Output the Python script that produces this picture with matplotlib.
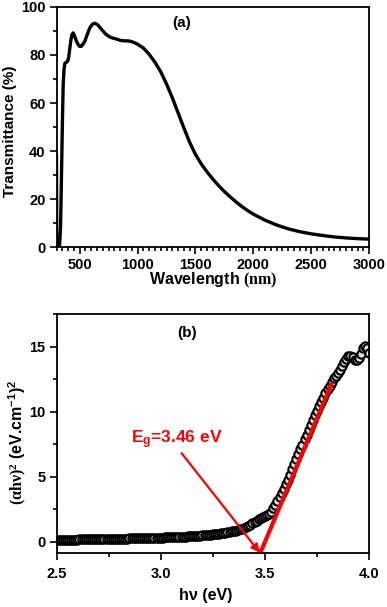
import matplotlib

matplotlib.use("Agg")
import matplotlib.pyplot as plt
from matplotlib.ticker import MultipleLocator

# (a) transmittance spectrum
wavelength_nm = [
    300, 302, 325, 335, 345, 352, 358, 365, 372, 385, 395, 405, 415, 425, 435, 444,
    455, 470, 485, 500, 515, 530, 545, 560, 575, 590, 610, 630, 650, 670, 690, 710,
    730, 760, 790, 820, 850, 880, 910, 940, 970, 1000, 1050, 1100, 1150, 1200, 1250,
    1300, 1350, 1400, 1450, 1500, 1550, 1600, 1650, 1700, 1750, 1800, 1850, 1900,
    1950, 2000, 2100, 2200, 2300, 2400, 2500, 2600, 2700, 2800, 2900, 3000,
]
transmittance = [
    38, 0, 0, 8, 35, 55, 68, 74, 76.5, 77, 77.3, 79, 82.8, 86.5, 88.6, 89.2,
    88, 86, 84.5, 83.6, 83.6, 84.6, 85.8, 87.8, 89.8, 91.5, 92.8, 93.2, 92.8, 91.8, 90.6, 89.5,
    88.5, 87.5, 87, 86.6, 86.1, 85.9, 85.9, 85.7, 85.2, 84.5, 82.9, 80.3, 77, 73, 67.9,
    62.2, 55.9, 49.6, 43.6, 38.6, 34.6, 31.3, 28.3, 25.6, 23.1, 20.9, 18.8, 16.9,
    15.2, 13.7, 11.2, 9.2, 7.6, 6.4, 5.5, 4.8, 4.2, 3.8, 3.5, 3.3,
]

# (b) Tauc plot
photon_energy = [
    2.50, 2.51, 2.52, 2.53, 2.54, 2.55, 2.56, 2.57, 2.58, 2.59,
    2.60, 2.61, 2.62, 2.63, 2.64, 2.65, 2.66, 2.67, 2.68, 2.69,
    2.70, 2.71, 2.72, 2.73, 2.74, 2.75, 2.76, 2.77, 2.78, 2.79,
    2.80, 2.81, 2.82, 2.83, 2.84, 2.85, 2.86, 2.87, 2.88, 2.89,
    2.90, 2.91, 2.92, 2.93, 2.94, 2.95, 2.96, 2.97, 2.98, 2.99,
    3.00, 3.01, 3.02, 3.03, 3.04, 3.05, 3.06, 3.07, 3.08, 3.09,
    3.10, 3.11, 3.12, 3.13, 3.14, 3.15, 3.16, 3.17, 3.18, 3.19,
    3.20, 3.21, 3.22, 3.23, 3.24, 3.25, 3.26, 3.27, 3.28, 3.29,
    3.30, 3.31, 3.32, 3.33, 3.34, 3.35, 3.36, 3.37, 3.38, 3.39,
    3.40, 3.41, 3.42, 3.43, 3.44, 3.45, 3.46, 3.47, 3.48, 3.49,
    3.50, 3.51, 3.52, 3.53, 3.54, 3.55, 3.56, 3.57, 3.58, 3.59,
    3.60, 3.61, 3.62, 3.63, 3.64, 3.65, 3.66, 3.67, 3.68, 3.69,
    3.70, 3.71, 3.72, 3.73, 3.74, 3.75, 3.76, 3.77, 3.78, 3.79,
    3.80, 3.81, 3.82, 3.83, 3.84, 3.85, 3.86, 3.87, 3.88, 3.89,
    3.90, 3.91, 3.92, 3.93, 3.94, 3.95, 3.96, 3.97, 3.98, 3.99,
    4.00,
]
tauc_value = [
    0.12, 0.12, 0.13, 0.13, 0.13, 0.14, 0.14, 0.14, 0.15, 0.15,
    0.15, 0.16, 0.16, 0.16, 0.17, 0.17, 0.17, 0.18, 0.18, 0.18,
    0.19, 0.19, 0.19, 0.20, 0.20, 0.20, 0.21, 0.21, 0.21, 0.22,
    0.22, 0.22, 0.23, 0.23, 0.23, 0.24, 0.24, 0.25, 0.25, 0.25,
    0.26, 0.26, 0.27, 0.27, 0.28, 0.28, 0.29, 0.29, 0.30, 0.30,
    0.31, 0.31, 0.32, 0.33, 0.33, 0.34, 0.35, 0.35, 0.36, 0.37,
    0.38, 0.39, 0.39, 0.40, 0.41, 0.42, 0.43, 0.44, 0.45, 0.46,
    0.48, 0.49, 0.50, 0.52, 0.53, 0.55, 0.57, 0.59, 0.61, 0.63,
    0.66, 0.69, 0.72, 0.75, 0.78, 0.81, 0.85, 0.89, 0.94, 0.99,
    1.05, 1.12, 1.20, 1.30, 1.40, 1.52, 1.62, 1.72, 1.82, 1.90,
    1.97, 2.05, 2.15, 2.30, 2.55, 2.85, 3.15, 3.45, 3.75, 4.05,
    4.40, 4.75, 5.15, 5.55, 5.95, 6.35, 6.70, 7.10, 7.45, 7.85,
    8.20, 8.60, 8.95, 9.35, 9.70, 10.05, 10.40, 10.75, 11.05, 11.40,
    11.70, 12.00, 12.30, 12.55, 12.75, 12.95, 13.20, 13.50, 13.80, 14.05,
    14.25, 14.30, 14.20, 14.00, 13.95, 14.10, 14.45, 14.85, 15.05, 14.90,
    14.50,
]

# linear fit drawn on the Tauc plot, and the arrow pointing at Eg
fit_x = [3.477, 3.821]
fit_y = [-0.9, 12.2]
eg_label = "E$_\\mathsf{g}$=3.46 eV"
arrow_tail = (3.10, 6.8)
arrow_head = (3.475, -0.85)


def style_axes(ax) -> None:
    for spine in ax.spines.values():
        spine.set_linewidth(1.3)
    ax.tick_params(which="both", direction="out", top=False, right=False, width=1.2, labelsize=10.5, pad=3)
    ax.tick_params(which="major", length=5)
    ax.tick_params(which="minor", length=3)


def main() -> None:
    plt.rcParams["font.family"] = ["Liberation Sans", "DejaVu Sans"]
    plt.rcParams["font.weight"] = "bold"
    plt.rcParams["mathtext.fontset"] = "custom"
    plt.rcParams["mathtext.rm"] = "Liberation Serif"
    plt.rcParams["mathtext.it"] = "Liberation Serif:italic"
    plt.rcParams["mathtext.bf"] = "Liberation Serif:bold"
    plt.rcParams["mathtext.sf"] = "Liberation Sans:bold"

    fig = plt.figure(figsize=(3.87, 6.07), dpi=100)
    ax1 = fig.add_axes([0.146, 0.593, 0.808, 0.3955])
    ax2 = fig.add_axes([0.146, 0.0885, 0.808, 0.3942])

    ax1.plot(wavelength_nm, transmittance, color="black", linewidth=2.4)
    ax1.set_xlim(300, 3000)
    ax1.set_ylim(0, 100)
    ax1.xaxis.set_major_locator(MultipleLocator(500))
    ax1.xaxis.set_minor_locator(MultipleLocator(50))
    ax1.yaxis.set_major_locator(MultipleLocator(20))
    ax1.yaxis.set_minor_locator(MultipleLocator(10))
    style_axes(ax1)
    ax1.set_xlabel("Wavelength $\\mathbf{(nm)}$", fontsize=11.5, fontweight="bold")
    ax1.set_ylabel("Transmittance (%)", fontsize=11, fontweight="bold")
    ax1.xaxis.set_label_coords(0.5, -0.1)
    ax1.yaxis.set_label_coords(-0.125, 0.483)
    ax1.text(0.40, 0.933, "(a)", transform=ax1.transAxes, ha="center", va="center", fontsize=11, fontweight="bold")

    ax2.plot(photon_energy, tauc_value, linestyle="none", marker="o", markersize=6,
             markerfacecolor="#e0e0e0", markeredgecolor="black", markeredgewidth=1.5)
    ax2.plot(fit_x, fit_y, color="red", linewidth=3, solid_capstyle="butt")
    ax2.annotate("", xy=arrow_head, xytext=arrow_tail,
                 arrowprops=dict(arrowstyle="-|>", color="red", lw=1.6, mutation_scale=12, shrinkA=0, shrinkB=0))
    ax2.text(2.855, 7.8, eg_label, color="red", fontsize=12.5, fontweight="bold", ha="left", va="center")
    ax2.set_xlim(2.5, 4.0)
    ax2.set_ylim(-0.9, 17.5)
    ax2.xaxis.set_major_locator(MultipleLocator(0.5))
    ax2.xaxis.set_minor_locator(MultipleLocator(0.25))
    ax2.yaxis.set_major_locator(MultipleLocator(5))
    ax2.yaxis.set_minor_locator(MultipleLocator(2.5))
    ax2.xaxis.set_major_formatter(plt.FormatStrFormatter("%.1f"))
    style_axes(ax2)
    ax2.tick_params(axis="x", which="both", pad=5)
    ax2.set_xlabel("h\u03bd (eV)", fontsize=11.5, fontweight="bold")
    ax2.set_ylabel("$\\mathrm{(\\alpha h\\nu)^2}$ (eV.cm$\\mathsf{^{-1}}$)$\\mathsf{^2}$", fontsize=11.5, fontweight="bold")
    ax2.xaxis.set_label_coords(0.476, -0.145)
    ax2.yaxis.set_label_coords(-0.09, 0.465)
    ax2.text(0.418, 0.92, "(b)", transform=ax2.transAxes, ha="center", va="center", fontsize=11, fontweight="bold")

    fig.savefig("out.png", dpi=100)
    plt.close(fig)


if __name__ == "__main__":
    main()
